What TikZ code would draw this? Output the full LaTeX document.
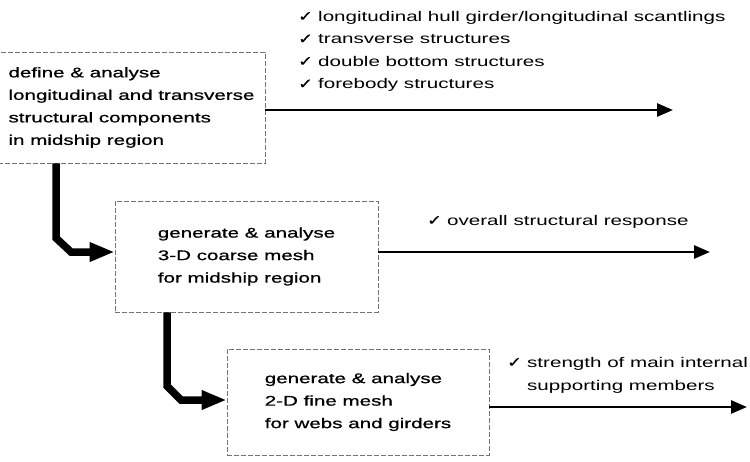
\documentclass[tikz,border=0pt]{standalone}
\usepackage{fontspec}
\setmainfont{Liberation Sans}[FakeStretch=1.47]
\newfontfamily\boxfont{Liberation Sans}[FakeStretch=1.47,FakeBold=0.8]
\newfontfamily\symfont{DejaVu Sans}[FakeStretch=1.25,FakeBold=1]
\usepackage{tikz}
\usetikzlibrary{arrows.meta}
\usetikzlibrary{positioning}
\newcommand{\tick}{\makebox[20pt][l]{\symfont\fontsize{14}{14}\selectfont ✓}}

\begin{document}
\begin{tikzpicture}[x=1pt,y=-1pt,font=\fontsize{14}{22.5}\selectfont]
    \useasboundingbox (0,0) rectangle (750,461);
    \begin{scope}[every node/.style={rectangle,draw=black!55,dash pattern=on 5pt off 2pt,line width=0.7pt,align=left,inner sep=0pt,font=\boxfont\fontsize{14}{22.5}\selectfont}]
    \node[minimum width=267pt,minimum height=111pt] (a) at (131.5,107.5) {define \& analyse\\longitudinal and transverse\\structural components\\in midship region};
    \node[minimum width=263pt,minimum height=111pt] (b) at (246.5,256.5) {generate \& analyse\\3-D coarse mesh\\for midship region};
    \node[minimum width=262pt,minimum height=106pt] (c) at (358,402) {generate \& analyse\\2-D fine mesh\\for webs and girders};
    \end{scope}
    \begin{scope}[every node/.style={anchor=base west,inner sep=0pt}]
    \node (p) at (298,21) {\tick longitudinal hull girder/longitudinal scantlings};
    \node (q) at (298,43.5) {\tick transverse structures};
    \node (r) at (298,66) {\tick double bottom structures};
    \node (s) at (298,88.5) {\tick forebody structures};
    \node (t) at (427,225) {\tick overall structural response};
    \node (u) at (507,367) {\tick strength of main internal};
    \node (v) at (527,390) {supporting members};
    \end{scope}
    \coordinate (e1) at (673,110);
    \coordinate (e2) at (710,252);
    \coordinate (e3) at (747,407);
    \coordinate (k1) at (56,238);
    \coordinate (k2) at (71,252);
    \coordinate (m1) at (167,386);
    \coordinate (m2) at (181,400);
    \begin{scope}[line width=2.8pt,-{Triangle[length=16pt,width=13pt]}]
    \draw (a.east |- e1) -- (e1);
    \draw (b.east |- e2) -- (e2);
    \draw (c.east |- e3) -- (e3);
    \end{scope}
    \begin{scope}[line width=7.5pt,-{Triangle[length=25pt,width=18pt]}]
    \draw (a.south -| k1) -- (k1) -- (k2) -- (b.west |- k2);
    \draw (b.south -| m1) -- (m1) -- (m2) -- (c.west |- m2);
    \end{scope}
\end{tikzpicture}
\end{document}
